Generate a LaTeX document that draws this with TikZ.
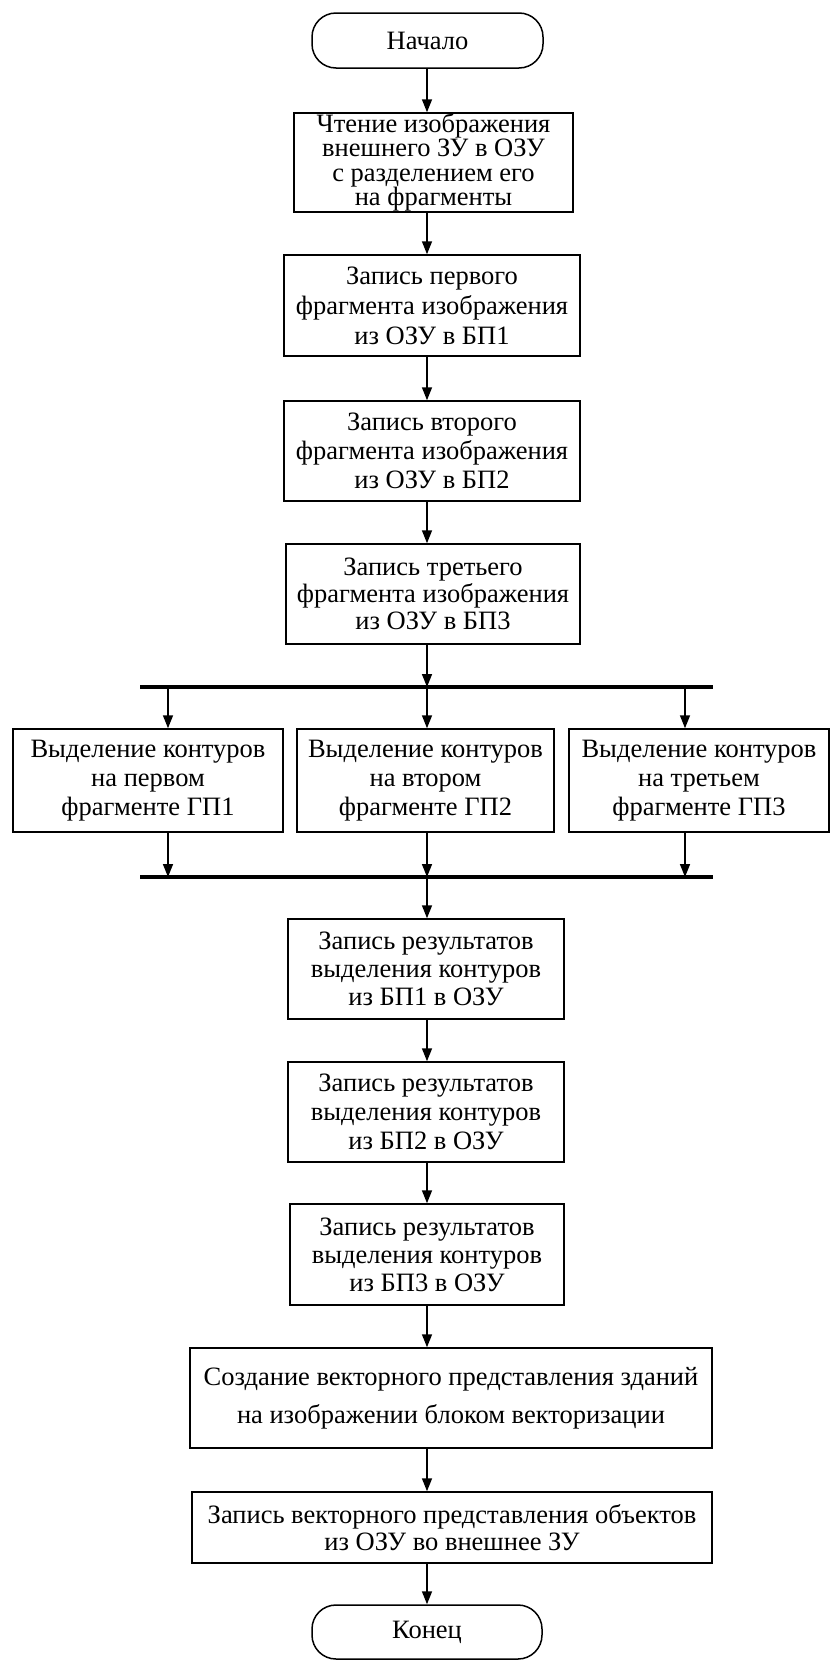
\documentclass[tikz,border=0pt]{standalone}
\usepackage{fontspec}
\setmainfont{Liberation Serif}
\usetikzlibrary{arrows.meta}
\begin{document}
\begin{tikzpicture}[x=1pt,y=-1pt,
  box/.style={draw, line width=1.5pt, inner sep=0pt, align=center},
  fsz/.style={font=\fontsize{26.5}{#1}\selectfont},
  term/.style={draw, line width=1.5pt, rounded corners=24pt, inner sep=0pt, font=\fontsize{26.5}{30}\selectfont},
  arr/.style={line width=1.5pt, -{Triangle[length=13pt,width=10pt]}},
  bar/.style={line width=4pt}]
\useasboundingbox[fill=white] (0,0) rectangle (830,1660);
\coordinate (mx) at (427,0);
\coordinate (lx) at (168,0);
\coordinate (rx) at (685,0);

\node[term, minimum width=231pt, minimum height=55pt] (start) at (427.5,40.5) {Начало};
\node[box, fsz=24.5, minimum width=279pt, minimum height=99pt] (b1) at (433.5,162.5)
  {Чтение изображения\\внешнего ЗУ в ОЗУ\\с разделением его\\на фрагменты};
\node[box, fsz=30, minimum width=296pt, minimum height=101pt] (b2) at (432,305.5)
  {Запись первого\\фрагмента изображения\\из ОЗУ в БП1};
\node[box, fsz=29, minimum width=296pt, minimum height=100pt] (b3) at (432,451)
  {Запись второго\\фрагмента изображения\\из ОЗУ в БП2};
\node[box, fsz=27, minimum width=294pt, minimum height=100pt] (b4) at (433,594)
  {Запись третьего\\фрагмента изображения\\из ОЗУ в БП3};

\coordinate (t1) at (140,687);
\coordinate (t2) at (713,687);
\draw[bar] (t1) -- (t2);

\node[box, fsz=29, minimum width=270pt, minimum height=103pt] (gl) at (148,780.5)
  {Выделение контуров\\на первом\\фрагменте ГП1};
\node[box, fsz=29, minimum width=257pt, minimum height=103pt] (gm) at (425.5,780.5)
  {Выделение контуров\\на втором\\фрагменте ГП2};
\node[box, fsz=29, minimum width=260pt, minimum height=103pt] (gr) at (699,780.5)
  {Выделение контуров\\на третьем\\фрагменте ГП3};

\coordinate (u1) at (140,877);
\coordinate (u2) at (713,877);
\draw[bar] (u1) -- (u2);

\node[box, fsz=28, minimum width=276pt, minimum height=100pt] (b5) at (426,969)
  {Запись результатов\\выделения контуров\\из БП1 в ОЗУ};
\node[box, fsz=29, minimum width=276pt, minimum height=100pt] (b6) at (426,1112)
  {Запись результатов\\выделения контуров\\из БП2 в ОЗУ};
\node[box, fsz=28, minimum width=274pt, minimum height=101pt] (b7) at (427,1254.5)
  {Запись результатов\\выделения контуров\\из БП3 в ОЗУ};
\node[box, fsz=38, minimum width=522pt, minimum height=100pt] (b8) at (451,1398)
  {Создание векторного представления зданий\\на изображении блоком векторизации};
\node[box, fsz=27, minimum width=520pt, minimum height=71pt] (b9) at (452,1527.5)
  {Запись векторного представления объектов\\из ОЗУ во внешнее ЗУ};
\node[term, minimum width=230pt, minimum height=54pt] (end) at (427,1632) {Конец};

\draw[arr] (start.south -| mx) -- (b1.north -| mx);
\draw[arr] (b1.south -| mx) -- (b2.north -| mx);
\draw[arr] (b2.south -| mx) -- (b3.north -| mx);
\draw[arr] (b3.south -| mx) -- (b4.north -| mx);
\draw[arr] (b4.south -| mx) -- (t1 -| mx);
\draw[arr] (t1 -| lx) -- (gl.north -| lx);
\draw[arr] (t1 -| mx) -- (gm.north -| mx);
\draw[arr] (t1 -| rx) -- (gr.north -| rx);
\draw[arr] (gl.south -| lx) -- (u1 -| lx);
\draw[arr] (gm.south -| mx) -- (u1 -| mx);
\draw[arr] (gr.south -| rx) -- (u1 -| rx);
\draw[arr] (u1 -| mx) -- (b5.north -| mx);
\draw[arr] (b5.south -| mx) -- (b6.north -| mx);
\draw[arr] (b6.south -| mx) -- (b7.north -| mx);
\draw[arr] (b7.south -| mx) -- (b8.north -| mx);
\draw[arr] (b8.south -| mx) -- (b9.north -| mx);
\draw[arr] (b9.south -| mx) -- (end.north -| mx);
\end{tikzpicture}
\end{document}
